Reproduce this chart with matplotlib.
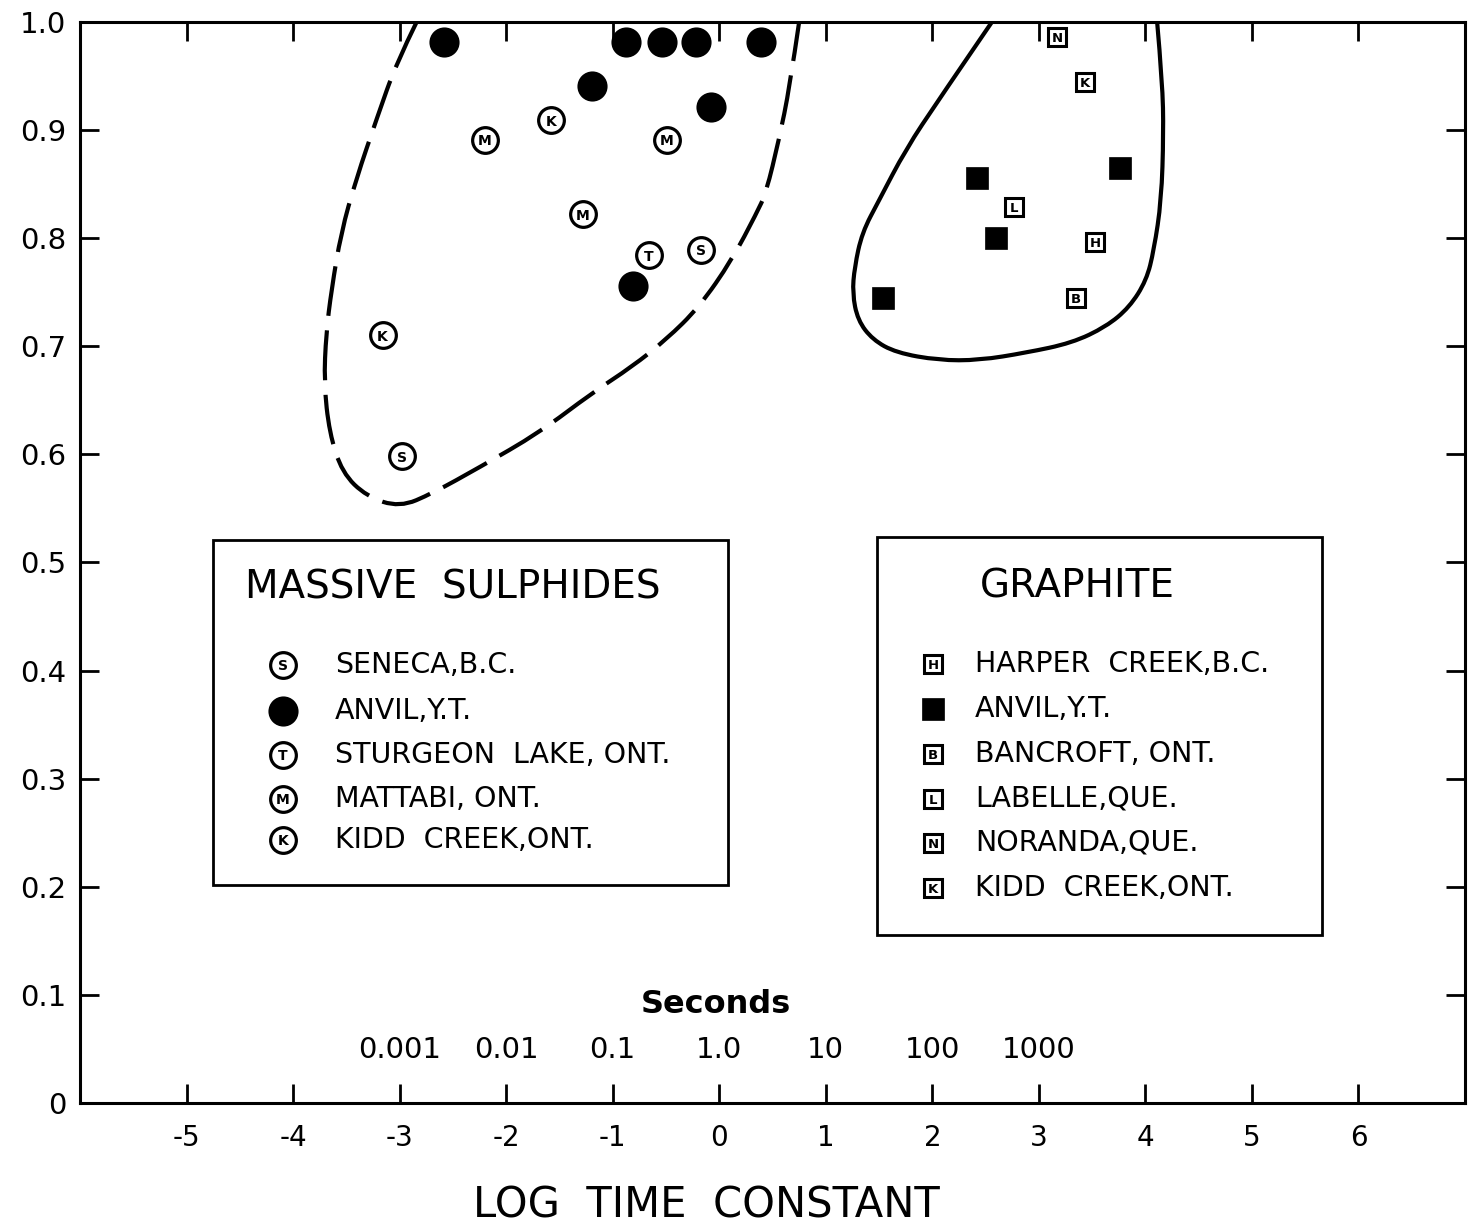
import matplotlib
matplotlib.use('Agg')
import matplotlib.pyplot as plt
from matplotlib.patches import Rectangle, PathPatch
from matplotlib.path import Path

plt.rcParams['font.family'] = 'DejaVu Sans'
plt.rcParams['axes.unicode_minus'] = False

# --- massive sulphides (log time constant, response) ---
seneca_x = [-0.17, -2.98]
seneca_y = [0.789, 0.598]
anvil_ms_x = [-2.58, -0.88, -0.54, -0.22, 0.39, -1.19, -0.08, -0.81]
anvil_ms_y = [0.981, 0.981, 0.981, 0.981, 0.981, 0.941, 0.921, 0.756]
sturgeon_x = [-0.66]
sturgeon_y = [0.784]
mattabi_x = [-2.20, -0.49, -1.28]
mattabi_y = [0.891, 0.891, 0.822]
kidd_ms_x = [-1.58, -3.16]
kidd_ms_y = [0.909, 0.710]

# --- graphite ---
harper_x = [3.53]
harper_y = [0.796]
anvil_gr_x = [2.42, 2.60, 1.54, 3.76]
anvil_gr_y = [0.856, 0.800, 0.745, 0.865]
bancroft_x = [3.35]
bancroft_y = [0.745]
labelle_x = [2.77]
labelle_y = [0.829]
noranda_x = [3.17]
noranda_y = [0.986]
kidd_gr_x = [3.43]
kidd_gr_y = [0.944]

# field outlines (hand-drawn envelopes)
sulph_env_x = [-2.84, -3.03, -3.21, -3.41, -3.55, -3.64, -3.69, -3.71, -3.66, -3.54,
               -3.31, -3.00, -2.69, -2.25, -1.69, -1.19, -0.82, -0.50, -0.19, 0.12,
               0.35, 0.44, 0.56, 0.66, 0.75]
sulph_env_y = [1.000, 0.962, 0.912, 0.854, 0.805, 0.752, 0.712, 0.666, 0.620, 0.583,
               0.561, 0.551, 0.564, 0.588, 0.620, 0.657, 0.681, 0.706, 0.736, 0.780,
               0.823, 0.842, 0.891, 0.939, 1.000]
graph_env_x = [2.56, 2.06, 1.75, 1.50, 1.34, 1.27, 1.25, 1.30, 1.44, 1.66, 2.06,
               2.44, 2.88, 3.31, 3.63, 3.85, 4.01, 4.08, 4.15, 4.17, 4.16, 4.11]
graph_env_y = [1.000, 0.928, 0.882, 0.835, 0.805, 0.773, 0.749, 0.724, 0.706, 0.694,
               0.687, 0.687, 0.694, 0.703, 0.718, 0.736, 0.761, 0.789, 0.835, 0.897,
               0.944, 1.000]

x_ticks = list(range(-5, 7))
y_ticks = [i / 10 for i in range(11)]
sec_pos = [-3, -2, -1, 0, 1, 2, 3]
sec_labels = ['0.001', '0.01', '0.1', '1.0', '10', '100', '1000']

ms_names = ['SENECA,B.C.', 'ANVIL,Y.T.', 'STURGEON  LAKE, ONT.', 'MATTABI, ONT.', 'KIDD  CREEK,ONT.']
ms_letters = ['S', None, 'T', 'M', 'K']
gr_names = ['HARPER  CREEK,B.C.', 'ANVIL,Y.T.', 'BANCROFT, ONT.', 'LABELLE,QUE.',
            'NORANDA,QUE.', 'KIDD  CREEK,ONT.']
gr_letters = ['H', None, 'B', 'L', 'N', 'K']


def circle_pts(ax, xs, ys, letter, z=4, **kw):
    if letter is None:
        ax.plot(xs, ys, 'o', ms=19.5, mfc='black', mec='black', mew=2.2, zorder=z, **kw)
        return
    ax.plot(xs, ys, 'o', ms=18.5, mfc='white', mec='black', mew=2.3, zorder=z, **kw)
    for x, y in zip(xs, ys):
        ax.text(x, y, letter, ha='center', va='center_baseline', fontsize=10,
                fontweight='bold', zorder=z + 1, **kw)


def square_pts(ax, xs, ys, letter, z=4, **kw):
    if letter is None:
        ax.plot(xs, ys, 's', ms=15.5, mfc='black', mec='black', mew=0.5, zorder=z, **kw)
        return
    ax.plot(xs, ys, 's', ms=13.5, mfc='white', mec='black', mew=2.2, zorder=z, **kw)
    for x, y in zip(xs, ys):
        ax.text(x, y, letter, ha='center', va='center_baseline', fontsize=9.5,
                fontweight='bold', zorder=z + 1, **kw)


def smooth_outline(xs, ys):
    # quadratic bezier through midpoints, outline points act as controls
    pts = list(zip(xs, ys))
    verts = [pts[0]]
    codes = [Path.MOVETO]
    for i in range(1, len(pts) - 1):
        mid = ((pts[i][0] + pts[i + 1][0]) / 2, (pts[i][1] + pts[i + 1][1]) / 2)
        if i == len(pts) - 2:
            mid = pts[-1]
        verts += [pts[i], mid]
        codes += [Path.CURVE3, Path.CURVE3]
    return Path(verts, codes)


fig = plt.figure(figsize=(14.74, 12.30), dpi=100)
ax = fig.add_axes([0.0543, 0.1033, 0.9396, 0.8789])
ax.set_xlim(-6, 7)
ax.set_ylim(0, 1.0)

ax.add_patch(PathPatch(smooth_outline(sulph_env_x, sulph_env_y), fill=False, ec='black',
                       lw=3, ls=(0, (12, 3.5)), capstyle='butt', zorder=2))
ax.add_patch(PathPatch(smooth_outline(graph_env_x, graph_env_y), fill=False, ec='black',
                       lw=3, zorder=2))

circle_pts(ax, seneca_x, seneca_y, 'S')
circle_pts(ax, anvil_ms_x, anvil_ms_y, None)
circle_pts(ax, sturgeon_x, sturgeon_y, 'T')
circle_pts(ax, mattabi_x, mattabi_y, 'M')
circle_pts(ax, kidd_ms_x, kidd_ms_y, 'K')

square_pts(ax, harper_x, harper_y, 'H')
square_pts(ax, anvil_gr_x, anvil_gr_y, None)
square_pts(ax, bancroft_x, bancroft_y, 'B')
square_pts(ax, labelle_x, labelle_y, 'L')
square_pts(ax, noranda_x, noranda_y, 'N')
square_pts(ax, kidd_gr_x, kidd_gr_y, 'K')

# key boxes
ax.add_patch(Rectangle((0.096, 0.2017), 0.3719, 0.3191, transform=ax.transAxes,
                       fc='white', ec='black', lw=2, zorder=6))
ax.text(0.1191, 0.4764, 'MASSIVE  SULPHIDES', transform=ax.transAxes, fontsize=28,
        ha='left', va='center', zorder=7)
ms_rows = [0.4052, 0.3626, 0.3219, 0.2812, 0.2433]
for name, letter, ry in zip(ms_names, ms_letters, ms_rows):
    circle_pts(ax, [0.1466], [ry], letter, z=8, transform=ax.transAxes, clip_on=False)
    ax.text(0.1841, ry, name, transform=ax.transAxes, fontsize=20.5,
            ha='left', va='center', zorder=7)

ax.add_patch(Rectangle((0.5755, 0.1554), 0.3213, 0.3682, transform=ax.transAxes,
                       fc='white', ec='black', lw=2, zorder=6))
ax.text(0.7199, 0.4773, 'GRAPHITE', transform=ax.transAxes, fontsize=28,
        ha='center', va='center', zorder=7)
gr_rows = [0.4061, 0.3645, 0.3228, 0.2812, 0.2405, 0.1989]
for name, letter, ry in zip(gr_names, gr_letters, gr_rows):
    square_pts(ax, [0.6159], [ry], letter, z=8, transform=ax.transAxes, clip_on=False)
    ax.text(0.6462, ry, name, transform=ax.transAxes, fontsize=20.5,
            ha='left', va='center', zorder=7)

# seconds scale above the log axis
ax.text(-0.03, 0.0907, 'Seconds', fontsize=23, fontweight='bold', ha='center', va='center')
for p, s in zip(sec_pos, sec_labels):
    ax.text(p, 0.049, s, fontsize=21, ha='center', va='center')

ax.set_xticks(x_ticks)
ax.set_xticklabels([str(v) for v in x_ticks])
ax.set_yticks(y_ticks)
ax.set_yticklabels(['0' if v == 0 else f'{v:.1f}' for v in y_ticks])
ax.tick_params(direction='in', length=14, width=2, top=True, right=True)
ax.tick_params(axis='x', labelsize=20, pad=15)
ax.tick_params(axis='y', labelsize=21, pad=10)
for sp in ax.spines.values():
    sp.set_linewidth(2.2)

ax.set_xlabel('LOG  TIME  CONSTANT', fontsize=30)
ax.xaxis.set_label_coords(0.452, -0.0953)
ax.xaxis.label.set_va('center')

fig.savefig('out.png', dpi=100)
